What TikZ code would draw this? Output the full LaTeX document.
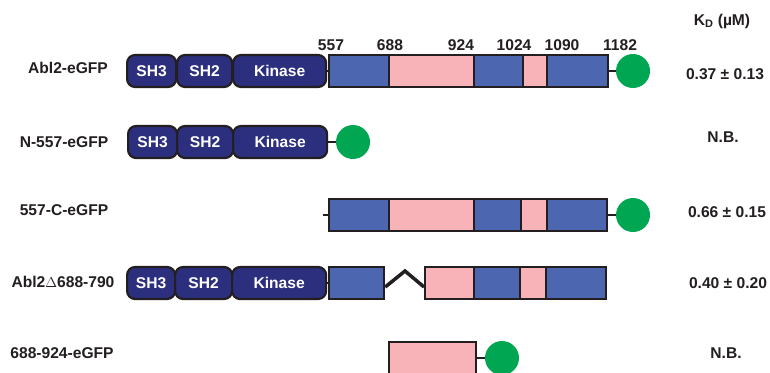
\documentclass[tikz,border=0pt]{standalone}
\usepackage{fontspec}
\setmainfont{Liberation Sans}
\definecolor{navy}{HTML}{2B2F7E}
\definecolor{bseg}{HTML}{4C66B0}
\definecolor{pseg}{HTML}{F8B3B9}
\definecolor{gfpg}{HTML}{00A651}
\definecolor{edge}{HTML}{231F20}
\begin{document}
\begin{tikzpicture}[x=1pt,y=-1pt,
  txt/.style={font=\fontsize{15.6}{18}\selectfont\bfseries, inner sep=0pt, text=edge},
  dom/.style={draw=edge, line width=2.2pt, fill=navy, rounded corners=8pt, minimum height=32pt, inner sep=0pt, anchor=west, text=white, font=\fontsize{15.6}{18}\selectfont\bfseries},
  bluebox/.style={draw=edge, line width=2.2pt, fill=bseg, minimum height=32pt, inner sep=0pt, anchor=west},
  pinkbox/.style={draw=edge, line width=2.2pt, fill=pseg, minimum height=32pt, inner sep=0pt, anchor=west},
  gfp/.style={circle, fill=gfpg, minimum size=34pt, inner sep=0pt},
  link/.style={draw=edge, line width=2pt}]
\clip (0,0) rectangle (770,372);
\fill[white] (0,0) rectangle (770,372);

% header
\node[txt] (kd) at (722,21) {K\textsubscript{D} (µM)};
\node[txt] (n557) at (331,45) {557};
\node[txt] (n688) at (390,45) {688};
\node[txt] (n924) at (461,45) {924};
\node[txt] (n1024) at (514,45) {1024};
\node[txt] (n1090) at (562,45) {1090};
\node[txt] (n1182) at (620,45) {1182};

% row 1
\node[txt] (l1) at (68,68) {Abl2-eGFP};
\node[dom, minimum width=49pt] (sh3a) at (126,71) {SH3};
\node[dom, minimum width=55pt] (sh2a) at (176,71) {SH2};
\node[dom, minimum width=93pt] (kina) at (232,71) {Kinase};
\node[bluebox, minimum width=60pt] (a1) at (328,71) {};
\node[pinkbox, minimum width=85pt] (a2) at (388,71) {};
\node[bluebox, minimum width=49pt] (a3) at (473,71) {};
\node[pinkbox, minimum width=24pt] (a4) at (522,71) {};
\node[bluebox, minimum width=61pt] (a5) at (546,71) {};
\node[gfp] (ga) at (633,71) {};
\draw[link] (kina.east) -- (a1.west);
\draw[link] (a5.east) -- (ga.west);
\node[txt] (v1) at (725,74) {0.37 ± 0.13};

% row 2
\node[txt] (l2) at (64,142) {N-557-eGFP};
\node[dom, minimum width=49pt] (sh3b) at (127,142) {SH3};
\node[dom, minimum width=56pt] (sh2b) at (176,142) {SH2};
\node[dom, minimum width=94pt] (kinb) at (232,142) {Kinase};
\node[gfp] (gb) at (353,142) {};
\draw[link] (kinb.east) -- (gb.west);
\node[txt] (v2) at (723,137) {N.B.};

% row 3
\node[txt] (l3) at (64,210) {557-C-eGFP};
\coordinate (c3) at (323,215);
\node[bluebox, minimum width=60pt] (c1) at (328,215) {};
\node[pinkbox, minimum width=85pt] (c2) at (388,215) {};
\node[bluebox, minimum width=47pt] (c3b) at (473,215) {};
\node[pinkbox, minimum width=26pt] (c4) at (520,215) {};
\node[bluebox, minimum width=60pt] (c5) at (546,215) {};
\node[gfp] (gc) at (633,215) {};
\draw[link] (c3) -- (c1.west);
\draw[link] (c5.east) -- (gc.west);
\node[txt] (v3) at (727,212) {0.66 ± 0.15};

% row 4
\node[txt] (l4) at (63,282) {Abl2$\Delta$688-790};
\node[dom, minimum width=48pt] (sh3d) at (126,283) {SH3};
\node[dom, minimum width=57pt] (sh2d) at (174,283) {SH2};
\node[dom, minimum width=94pt] (kind) at (231,283) {Kinase};
\node[bluebox, minimum width=55pt] (d1) at (328,283) {};
\node[pinkbox, minimum width=49pt] (d2) at (424,283) {};
\node[bluebox, minimum width=46pt] (d3) at (473,283) {};
\node[pinkbox, minimum width=26pt] (d4) at (519,283) {};
\node[bluebox, minimum width=60pt] (d5) at (545,283) {};
\coordinate (zpeak) at (405,271);
\draw[link] (kind.east) -- (d1.west);
\draw[draw=edge, line width=3.5pt] ([yshift=-4pt]d1.east) -- (zpeak) -- ([yshift=-4pt]d2.west);
\node[txt] (v4) at (728,283) {0.40 ± 0.20};

% row 5
\node[txt] (l5) at (62,353) {688-924-eGFP};
\node[pinkbox, minimum width=87pt] (e1) at (388,358) {};
\node[gfp] (ge) at (502,358) {};
\draw[link] (e1.east) -- (ge.west);
\node[txt] (v5) at (726,353) {N.B.};
\end{tikzpicture}
\end{document}
